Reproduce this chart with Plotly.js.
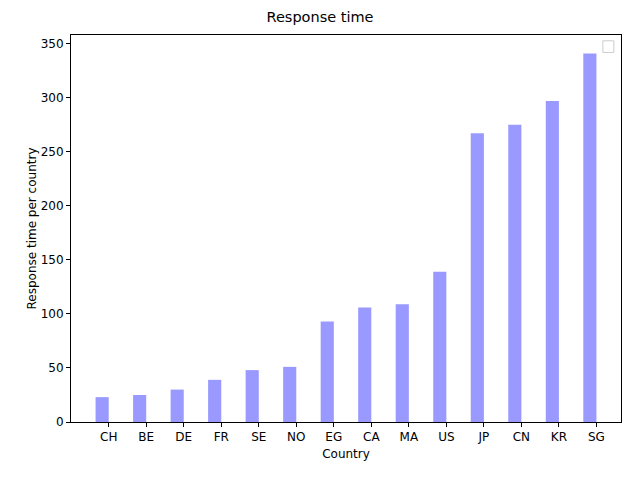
<!DOCTYPE html>
<html><head><script src="https://cdn.plot.ly/plotly-3.0.1.min.js"></script></head>
<body style="margin:0"><div id="c" style="width:640px;height:480px"></div>
<script>
const countries=["CH","BE","DE","FR","SE","NO","EG","CA","MA","US","JP","CN","KR","SG"];
const values=[23,25,30,39,48,51,93,106,109,139,267,275,297,341];
const idx=countries.map((_,i)=>i);
const ticks=countries.map((_,i)=>i+0.175);
const ax={showline:true,mirror:true,linecolor:'black',linewidth:1,ticks:'outside',ticklen:4,tickcolor:'black',showgrid:false,zeroline:false,tickfont:{size:12,color:'black'}};
Plotly.newPlot('c',[{type:'bar',x:idx,y:values,width:0.35,marker:{color:'#9999ff'},hoverinfo:'none'}],{
width:640,height:480,margin:{l:71,r:19,t:35,b:58},paper_bgcolor:'white',plot_bgcolor:'white',
font:{family:'DejaVu Sans',color:'black'},showlegend:false,
title:{text:'Response time',x:0.5,y:0.975,yanchor:'top',font:{size:14.5}},
xaxis:Object.assign({},ax,{range:[-0.83,13.83],tickvals:ticks,ticktext:countries,title:{text:'Country',font:{size:12},standoff:6}}),
yaxis:Object.assign({},ax,{range:[0,358],tickvals:[0,50,100,150,200,250,300,350],title:{text:'Response time per country',font:{size:12}}}),
shapes:[{type:'rect',xref:'paper',yref:'paper',x0:0.967,x1:0.987,y0:0.955,y1:0.985,line:{color:'#cccccc',width:1},fillcolor:'white'}]
},{staticPlot:true});
</script></body></html>
